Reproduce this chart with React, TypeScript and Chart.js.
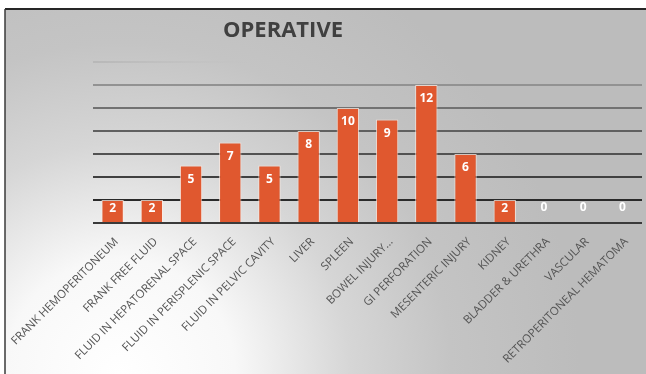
import React, { useEffect, useRef } from "react";
import { Chart, registerables } from "chart.js";

Chart.register(...registerables);

const titleText = "OPERATIVE";
const categories = [
  "FRANK HEMOPERITONEUM",
  "FRANK FREE FLUID",
  "FLUID IN HEPATORENAL SPACE",
  "FLUID IN PERISPLENIC SPACE",
  "FLUID IN PELVIC CAVITY",
  "LIVER",
  "SPLEEN",
  "BOWEL INJURY...",
  "GI PERFORATION",
  "MESENTERIC INJURY",
  "KIDNEY",
  "BLADDER & URETHRA",
  "VASCULAR",
  "RETROPERITONEAL HEMATOMA",
];
const values = [2, 2, 5, 7, 5, 8, 10, 9, 12, 6, 2, 0, 0, 0];
const yMin = 0;
const yMax = 14;
const yStep = 2;
const gridColors: Record<number, string> = {
  0: "#3a3a3a",
  2: "#2a2a2a",
  4: "#404040",
  6: "#525252",
  8: "#606060",
  10: "#727272",
  12: "#929292",
};

const bgPlugin = {
  id: "panelBg",
  beforeDraw(chart: any) {
    const { ctx, width, height } = chart;
    ctx.save();
    ctx.fillStyle = "#ffffff";
    ctx.fillRect(0, 0, width, height);
    const g = ctx.createRadialGradient(120, height, 0, 120, height, 460);
    g.addColorStop(0, "#ffffff");
    g.addColorStop(0.25, "#f8f8f8");
    g.addColorStop(0.5, "#d6d6d6");
    g.addColorStop(0.72, "#c4c4c4");
    g.addColorStop(1, "#bcbcbc");
    ctx.fillStyle = g;
    ctx.fillRect(5, 9, width - 5, height - 9);
    ctx.strokeStyle = "#262626";
    ctx.lineWidth = 2;
    ctx.beginPath();
    ctx.moveTo(5, 9);
    ctx.lineTo(width, 9);
    ctx.stroke();
    ctx.lineWidth = 1.5;
    ctx.strokeStyle = "#3a3a3a";
    ctx.beginPath();
    ctx.moveTo(5, 9);
    ctx.lineTo(5, height);
    ctx.stroke();
    ctx.fillStyle = "#404040";
    ctx.font = "bold 22px 'Open Sans', sans-serif";
    ctx.textAlign = "center";
    ctx.textBaseline = "middle";
    ctx.fillText(titleText, 283, 31);
    ctx.restore();
  },
};

const labelPlugin = {
  id: "barLabels",
  afterDatasetsDraw(chart: any) {
    const { ctx } = chart;
    const meta = chart.getDatasetMeta(0);
    ctx.save();
    ctx.fillStyle = "#ffffff";
    ctx.font = "bold 12px 'Open Sans', sans-serif";
    ctx.textAlign = "center";
    ctx.textBaseline = "middle";
    meta.data.forEach((el: any, i: number) => {
      const v = values[i];
      const top = el.y;
      const base = el.base;
      let y: number;
      if (v === 0) y = base - 15;
      else y = Math.min(top + 14, top + (base - top) * 0.4);
      ctx.fillText(String(v), el.x, y);
    });
    ctx.restore();
  },
};

export default function App() {
  const ref = useRef<HTMLCanvasElement | null>(null);
  useEffect(() => {
    if (!ref.current) return;
    const chart = new Chart(ref.current, {
      type: "bar",
      data: {
        labels: categories,
        datasets: [
          {
            data: values,
            backgroundColor: "#E0582F",
            borderColor: "rgba(255,235,225,0.75)",
            borderWidth: 1,
            categoryPercentage: 1,
            barPercentage: 0.57,
          },
        ],
      },
      options: {
        responsive: false,
        animation: false,
        layout: { padding: { top: 62, left: 93, right: 4, bottom: 0 } },
        plugins: {
          legend: { display: false },
          title: { display: false },
          tooltip: { enabled: false },
        },
        scales: {
          x: {
            grid: { display: false, drawTicks: false },
            border: { display: false },
            ticks: {
              autoSkip: false,
              maxRotation: 45,
              minRotation: 45,
              padding: 12,
              labelOffset: 4,
              color: "#555555",
              font: { family: "'Open Sans', sans-serif", size: 11.5 },
            },
            afterFit(scale: any) {
              scale.height = 151;
              scale.paddingLeft = 0;
              scale.paddingRight = 0;
            },
          },
          y: {
            min: yMin,
            max: yMax,
            border: { display: false },
            grid: {
              drawTicks: false,
              lineWidth: 2,
              color: (c: any) => {
                const v = c.tick?.value;
                if (v === yMax) {
                  const area = c.chart.chartArea;
                  const x0 = area ? area.left : 93;
                  const g = c.chart.ctx.createLinearGradient(x0, 0, x0 + 160, 0);
                  g.addColorStop(0, "rgba(180,180,180,0.8)");
                  g.addColorStop(0.5, "rgba(185,185,185,0.4)");
                  g.addColorStop(1, "rgba(190,190,190,0)");
                  return g;
                }
                return gridColors[v] ?? "#888";
              },
            },
            ticks: { display: false, stepSize: yStep },
            afterFit(scale: any) {
              scale.width = 0;
            },
          },
        },
      },
      plugins: [bgPlugin, labelPlugin],
    });
    return () => chart.destroy();
  }, []);
  return (
    <div style={{ position: "fixed", left: 0, top: 0, width: 646, height: 374 }}>
      <canvas ref={ref} width={646} height={374} />
    </div>
  );
}
